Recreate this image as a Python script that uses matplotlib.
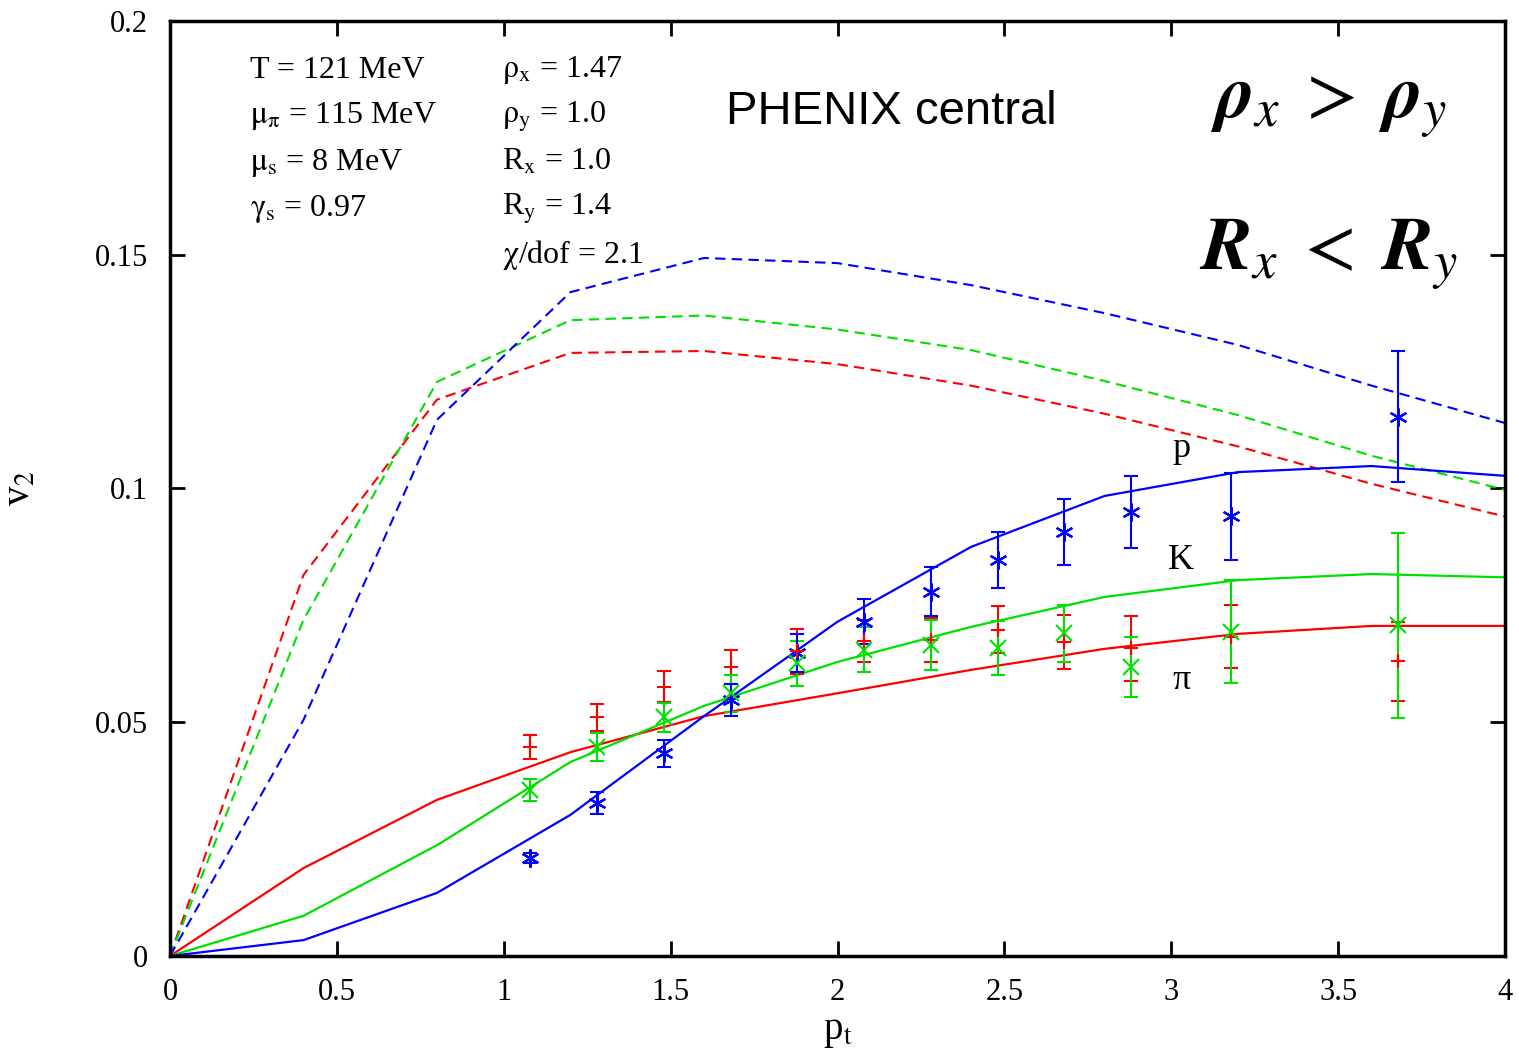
import matplotlib.pyplot as plt

plt.rcParams['font.family'] = ['Liberation Serif', 'DejaVu Serif']
plt.rcParams['mathtext.fontset'] = 'stix'

# model curves (sampled every 0.4 GeV)
pt_model = [0.0, 0.4, 0.8, 1.2, 1.6, 2.0, 2.4, 2.8, 3.2, 3.6, 4.0]
pi_solid = [0.0, 0.0188, 0.0334, 0.0436, 0.0513, 0.0562, 0.0612, 0.0657, 0.0689, 0.0706, 0.0706]
k_solid = [0.0, 0.0086, 0.0237, 0.0415, 0.0535, 0.0629, 0.0704, 0.0768, 0.0804, 0.0817, 0.0810]
p_solid = [0.0, 0.0034, 0.0135, 0.0302, 0.0513, 0.0715, 0.0875, 0.0984, 0.1035, 0.1048, 0.1027]
pi_dash = [0.0, 0.0815, 0.1190, 0.1290, 0.1294, 0.1266, 0.1220, 0.1160, 0.1090, 0.1010, 0.0940]
k_dash = [0.0, 0.0719, 0.1228, 0.1360, 0.1370, 0.1340, 0.1296, 0.1230, 0.1157, 0.1070, 0.0997]
p_dash = [0.0, 0.0505, 0.1147, 0.1420, 0.1493, 0.1482, 0.1435, 0.1375, 0.1307, 0.1220, 0.1140]

# PHENIX data
pt_data = [1.08, 1.28, 1.48, 1.68, 1.88, 2.08, 2.28, 2.48, 2.68, 2.88, 3.18, 3.68]
pi_v2 = [0.0447, 0.0511, 0.0576, 0.0618, 0.0652, 0.0674, 0.0676, 0.0698, 0.0672, 0.0658, 0.0683, 0.0630]
pi_err = [0.0026, 0.0029, 0.0033, 0.0037, 0.0048, 0.0045, 0.0048, 0.0050, 0.0058, 0.0070, 0.0067, 0.0084]
k_v2 = [0.0355, 0.0447, 0.0511, 0.0562, 0.0626, 0.0655, 0.0665, 0.0659, 0.0690, 0.0618, 0.0694, 0.0707]
k_err = [0.0024, 0.0030, 0.0031, 0.0040, 0.0048, 0.0048, 0.0053, 0.0057, 0.0061, 0.0065, 0.0110, 0.0197]
p_v2 = [0.0210, 0.0327, 0.0434, 0.0548, 0.0648, 0.0715, 0.0779, 0.0847, 0.0907, 0.0950, 0.0941, 0.1153]
p_err = [0.0010, 0.0024, 0.0029, 0.0034, 0.0040, 0.0048, 0.0052, 0.0060, 0.0070, 0.0077, 0.0093, 0.0140]

fig = plt.figure(figsize=(15.19, 10.58), dpi=100)
ax = fig.add_axes([0.1119, 0.0964, 0.8789, 0.8838])

red, green, blue = '#ff0000', '#00e000', '#0000ff'

ax.plot(pt_model, pi_dash, color=red, lw=1.5, ls=(0, (5, 3)))
ax.plot(pt_model, k_dash, color=green, lw=1.5, ls=(0, (5, 3)))
ax.plot(pt_model, p_dash, color=blue, lw=1.5, ls=(0, (5, 3)))
ax.plot(pt_model, pi_solid, color=red, lw=1.6)
ax.plot(pt_model, k_solid, color=green, lw=1.6)
ax.plot(pt_model, p_solid, color=blue, lw=1.6)

ax.errorbar(pt_data, pi_v2, yerr=pi_err, fmt='+', color=red, ms=10, mew=1.5,
            capsize=4.7, elinewidth=1.5, capthick=1.5)
ax.errorbar(pt_data, k_v2, yerr=k_err, fmt='x', color=green, ms=11, mew=1.5,
            capsize=4.7, elinewidth=1.5, capthick=1.5)
ax.errorbar(pt_data, p_v2, yerr=p_err, fmt='none', color=blue,
            capsize=4.7, elinewidth=1.5, capthick=1.5)
ax.plot(pt_data, p_v2, ls='none', marker=(6, 2, 0), color=blue, ms=13, mew=1.6)

ax.set_xlim(0, 4)
ax.set_ylim(0, 0.2)
ax.set_xticks([0, 0.5, 1, 1.5, 2, 2.5, 3, 3.5, 4])
ax.set_xticklabels(['0', '0.5', '1', '1.5', '2', '2.5', '3', '3.5', '4'])
ax.set_yticks([0, 0.05, 0.1, 0.15, 0.2])
ax.set_yticklabels(['0', '0.05', '0.1', '0.15', '0.2'])
ax.tick_params(direction='in', length=11, width=2, top=True, right=True,
               labelsize=22)
ax.tick_params(axis='y', pad=16)
ax.tick_params(axis='x', pad=16)
for s in ax.spines.values():
    s.set_linewidth(2.5)

ax.set_xlabel(r'p$_{\rm t}$', fontsize=28, labelpad=4)
ax.set_ylabel(r'v$_2$', fontsize=28, labelpad=40)

left_txt = [r'T = 121 MeV', r'$\mathrm{\mu_{\pi}}$ = 115 MeV', r'$\mathrm{\mu_{s}}$ = 8 MeV',
            r'$\mathrm{\gamma_{s}}$ = 0.97']
right_txt = [r'$\mathrm{\rho_{x}}$ = 1.47', r'$\mathrm{\rho_{y}}$ = 1.0', r'R$_{\rm x}$ = 1.0',
             r'R$_{\rm y}$ = 1.4', r'$\mathrm{\chi}$/dof = 2.1']
for i, t in enumerate(left_txt):
    ax.text(0.24, 0.1895 - i * 0.0099, t, fontsize=23, va='center')
for i, t in enumerate(right_txt):
    ax.text(0.995, 0.1895 - i * 0.0099, t, fontsize=23, va='center')

ax.text(2.16, 0.1805, 'PHENIX central', fontsize=34, family='Liberation Sans',
        ha='center', va='center')
ax.text(3.47, 0.1815, r'$\mathbfit{\rho}_x\;>\;\mathbfit{\rho}_y$', fontsize=54,
        ha='center', va='center')
ax.text(3.47, 0.1500, r'$\mathbfit{R}_x\;<\;\mathbfit{R}_y$', fontsize=54,
        ha='center', va='center')

ax.text(3.03, 0.1085, 'p', fontsize=26, ha='center', va='center')
ax.text(3.03, 0.0845, 'K', fontsize=26, ha='center', va='center')
ax.text(3.03, 0.0590, 'π', fontsize=26, ha='center', va='center')

fig.savefig('out.png', dpi=100)
